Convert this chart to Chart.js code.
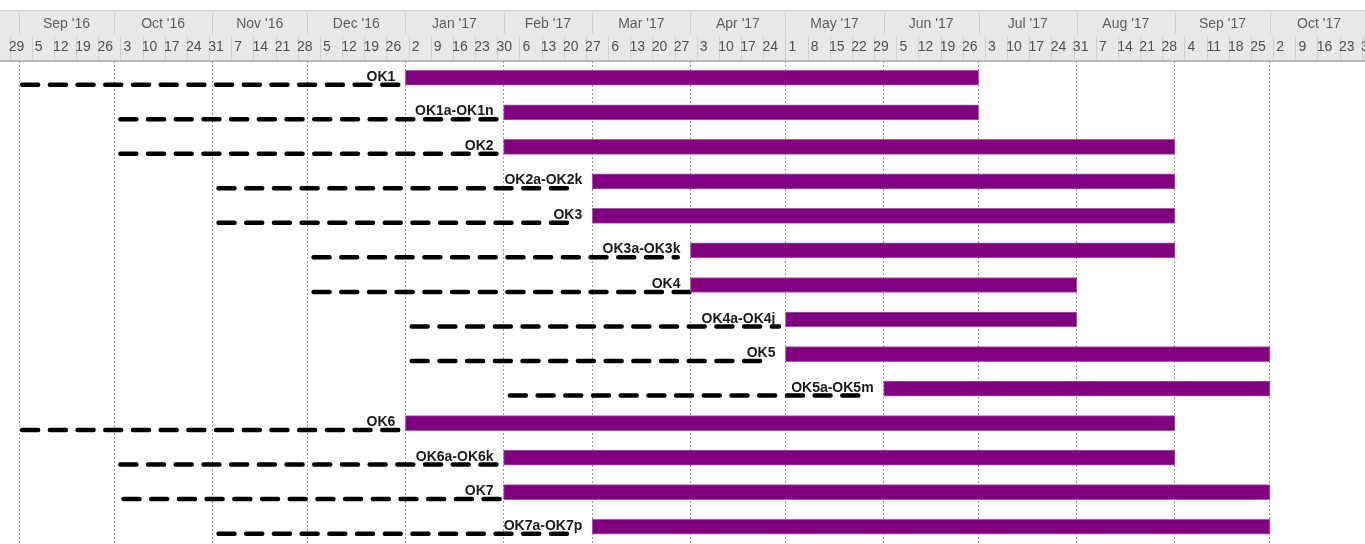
<!DOCTYPE html>
<html><head><meta charset="utf-8">
<script src="https://cdn.jsdelivr.net/npm/chart.js@4.4.0/dist/chart.umd.min.js"></script>
<style>html,body{margin:0;padding:0;background:#fff;overflow:hidden}#wrap{width:1365px;height:544px;position:relative}</style>
</head><body><div id="wrap"><canvas id="c" width="1365" height="544"></canvas></div>
<script>
const tasks = ['OK1','OK1a-OK1n','OK2','OK2a-OK2k','OK3','OK3a-OK3k','OK4','OK4a-OK4j','OK5','OK5a-OK5m','OK6','OK6a-OK6k','OK7','OK7a-OK7p'];
const barStart = ['2017-01-01','2017-02-01','2017-02-01','2017-03-01','2017-03-01','2017-04-01','2017-04-01','2017-05-01','2017-05-01','2017-06-01','2017-01-01','2017-02-01','2017-02-01','2017-03-01'];
const barEnd   = ['2017-07-01','2017-07-01','2017-09-01','2017-09-01','2017-09-01','2017-09-01','2017-08-01','2017-08-01','2017-10-01','2017-10-01','2017-09-01','2017-09-01','2017-10-01','2017-10-01'];
const planStart = ['2016-09-02','2016-10-03','2016-10-03','2016-11-03','2016-11-03','2016-12-03','2016-12-03','2017-01-03','2017-01-03','2017-02-03','2016-09-02','2016-10-03','2016-10-04','2016-11-03'];
const planEnd   = ['2017-01-01','2017-02-01','2017-02-01','2017-02-22','2017-02-22','2017-03-28','2017-04-01','2017-04-29','2017-04-24','2017-05-26','2017-01-01','2017-02-01','2017-02-01','2017-02-23'];
const monthStarts = ['2016-09-01','2016-10-01','2016-11-01','2016-12-01','2017-01-01','2017-02-01','2017-03-01','2017-04-01','2017-05-01','2017-06-01','2017-07-01','2017-08-01','2017-09-01','2017-10-01','2017-11-01'];
const monthLabels = ["Sep '16","Oct '16","Nov '16","Dec '16","Jan '17","Feb '17","Mar '17","Apr '17","May '17","Jun '17","Jul '17","Aug '17","Sep '17","Oct '17"];
const firstWeek = '2016-08-29';
const weekLabels = ['29','5','12','19','26','3','10','17','24','31','7','14','21','28','5','12','19','26','2','9','16','23','30','6','13','20','27','6','13','20','27','3','10','17','24','1','8','15','22','29','5','12','19','26','3','10','17','24','31','7','14','21','28','4','11','18','25','2','9','16','23','30'];
const viewStart = '2016-08-26';
const viewEnd = '2017-10-31';

const day = s => { const [y,m,d] = s.split('-').map(Number); return Date.UTC(y, m-1, d) / 864e5; };
const xMin = day(viewStart), xMax = day(viewEnd);

const weekTicks = weekLabels.map((l, i) => ({ value: day(firstWeek) + 7 * i }));
const monthTicks = [];
const monthTickLabels = [];
for (let i = 0; i < monthLabels.length; i++) {
  const a = day(monthStarts[i]), b = day(monthStarts[i+1]);
  monthTicks.push({ value: a }); monthTickLabels.push('');
  monthTicks.push({ value: (a + b) / 2 }); monthTickLabels.push(monthLabels[i]);
}

const ROWOFF = 0.2;
const datasets = [{
  type: 'bar',
  data: tasks.map((t, i) => [day(barStart[i]), day(barEnd[i])]),
  xAxisID: 'x', yAxisID: 'y',
  backgroundColor: '#800080',
  borderColor: '#a85aa8',
  borderWidth: 1,
  borderSkipped: false,
  barThickness: 15,
  grouped: false,
  order: 1
}];
tasks.forEach((t, i) => {
  datasets.push({
    type: 'line',
    indexAxis: 'x',
    data: [{ x: day(planStart[i]), y: i + ROWOFF }, { x: day(planEnd[i]), y: i + ROWOFF }],
    xAxisID: 'x', yAxisID: 'yl',
    borderColor: '#000',
    borderWidth: 4.5,
    borderDash: [16, 11.7],
    borderCapStyle: 'round',
    pointRadius: 0,
    fill: false,
    tension: 0,
    order: 2
  });
});

const headerPlugin = {
  id: 'hdr',
  beforeDraw(chart) {
    const ctx = chart.ctx, xs = chart.scales.x, ms = chart.scales.xm;
    const W = chart.width, top = ms.top, mid = ms.bottom, bot = Math.round(xs.bottom + 1.5);
    ctx.save();
    ctx.fillStyle = '#e8e8e8';
    ctx.fillRect(0, top, W, bot - top);
    ctx.fillStyle = '#d4d4d4';
    ctx.fillRect(0, top, W, 1);
    ctx.strokeStyle = '#cfcfcf';
    ctx.lineWidth = 1;
    ctx.beginPath();
    ms.ticks.forEach((t, i) => {
      if (i % 2 === 0) {
        const x = Math.round(ms.getPixelForValue(t.value)) + 0.5;
        ctx.moveTo(x, top + 2); ctx.lineTo(x, mid - 2);
      }
    });
    xs.ticks.forEach(t => {
      const x = Math.round(xs.getPixelForValue(t.value)) + 0.5;
      ctx.moveTo(x, mid); ctx.lineTo(x, bot - 2);
    });
    ctx.stroke();
    ctx.fillStyle = '#b9b9b9';
    ctx.fillRect(0, bot - 2, W, 2);
    ctx.restore();
  }
};

const labelPlugin = {
  id: 'taskLabels',
  afterDatasetsDraw(chart) {
    const ctx = chart.ctx;
    const meta = chart.getDatasetMeta(0);
    ctx.save();
    ctx.font = 'bold 14px "Liberation Sans", Arial, sans-serif';
    ctx.textAlign = 'right';
    ctx.textBaseline = 'alphabetic';
    ctx.fillStyle = '#1a1a1a';
    meta.data.forEach((el, i) => {
      const x0 = Math.min(el.x, el.base);
      ctx.fillText(tasks[i], x0 - 10, el.y + 3);
    });
    ctx.restore();
  }
};

const fixFit = h => (scale) => { scale.height = h; scale.paddingLeft = 0; scale.paddingRight = 0; };

new Chart(document.getElementById('c'), {
  type: 'bar',
  data: { labels: tasks, datasets },
  options: {
    responsive: false,
    animation: false,
    indexAxis: 'y',
    layout: { padding: { top: 10, left: 0, right: 0, bottom: -1 }, autoPadding: false },
    plugins: { legend: { display: false }, tooltip: { enabled: false } },
    scales: {
      x: {
        type: 'linear', position: 'top', min: xMin, max: xMax, weight: 0, offset: false,
        afterBuildTicks: s => { s.ticks = weekTicks.map(t => ({ value: t.value })); },
        afterFit: fixFit(24.5),
        grid: { display: false, drawTicks: false },
        border: { display: false },
        ticks: {
          autoSkip: false, maxRotation: 0, minRotation: 0,
          callback: (v, i) => weekLabels[i],
          labelOffset: 7, padding: 4.5,
          color: '#505050',
          font: { family: '"Liberation Sans", Arial, sans-serif', size: 14 }
        }
      },
      xm: {
        type: 'linear', position: 'top', min: xMin, max: xMax, weight: 1, offset: false,
        afterBuildTicks: s => { s.ticks = monthTicks.map(t => ({ value: t.value })); },
        afterFit: fixFit(26),
        grid: {
          display: true, drawTicks: false, drawOnChartArea: true, offset: false,
          color: ctx => (ctx.index % 2 === 0 ? '#9a9a9a' : 'rgba(0,0,0,0)'),
          lineWidth: 1
        },
        border: { display: false, dash: [2, 2] },
        ticks: {
          autoSkip: false, maxRotation: 0, minRotation: 0,
          callback: (v, i) => monthTickLabels[i],
          padding: 3,
          color: '#5e5e5e',
          font: { family: '"Liberation Sans", Arial, sans-serif', size: 14 }
        }
      },
      y: { type: 'category', display: false, offset: true },
      yl: { type: 'linear', display: false, offset: false, grid: { offset: false }, min: -0.5, max: tasks.length - 0.5, reverse: true }
    }
  },
  plugins: [headerPlugin, labelPlugin]
});
</script>
</body></html>
